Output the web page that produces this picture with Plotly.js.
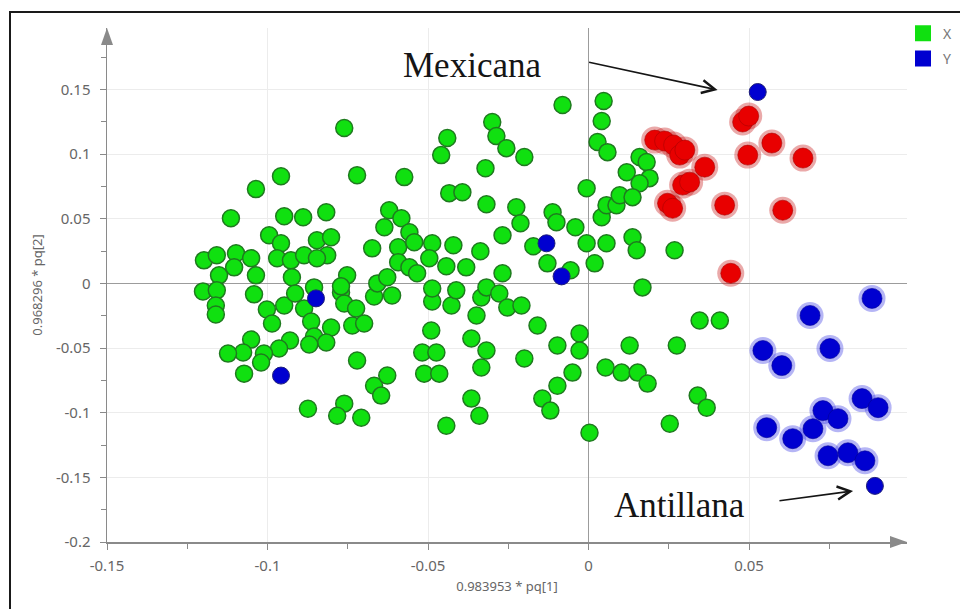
<!DOCTYPE html>
<html>
<head>
<meta charset="utf-8">
<script src="https://cdn.plot.ly/plotly-3.0.1.min.js"></script>
<style>
  html, body { margin: 0; padding: 0; background: #fff; }
  #wrap { position: relative; width: 960px; height: 609px; overflow: hidden; }
  #chart { position: absolute; left: 0; top: 0; width: 960px; height: 609px; }
  #frame { position: absolute; left: 9px; top: 11px; width: 970px; height: 620px;
           border-left: 2px solid #1a1a1a; border-top: 2px solid #1a1a1a; pointer-events: none; }
</style>
</head>
<body>
<div id="wrap">
  <div id="chart"></div>
  <div id="frame"></div>
</div>
<script>
// ---- Data (score plot: 0.983953*pq[1] vs 0.968296*pq[2]) ----
const greenX = [
 -0.1036,-0.0958,-0.1114,-0.0948,-0.0889,-0.0817,-0.0995,-0.0958,-0.0970,-0.0927,
 -0.0886,-0.0846,-0.0802,-0.0814,-0.0846,-0.0924,-0.0855,-0.1198,-0.1158,-0.1098,
 -0.1051,-0.1104,-0.1151,-0.1036,-0.1201,-0.1158,-0.1161,-0.1161,-0.1042,-0.1002,
 -0.0986,-0.0948,-0.0914,-0.0886,-0.0864,-0.0802,-0.0855,-0.0817,-0.0870,-0.0930,
 -0.0964,-0.1011,-0.1051,-0.1076,-0.1123,-0.1020,-0.1073,-0.0874,-0.0771,-0.0761,
 -0.0724,-0.0736,-0.0699,-0.0668,-0.0612,-0.0721,-0.0668,-0.0627,-0.0646,-0.0761,
 -0.0783,-0.0708,-0.0518,-0.0512,-0.0761,-0.0721,-0.0574,-0.0621,-0.0583,-0.0636,
 -0.0558,-0.0674,-0.0593,-0.0543,-0.0593,-0.0558,-0.0534,-0.0658,-0.0627,-0.0752,
 -0.0771,-0.0440,-0.0459,-0.0300,-0.0287,-0.0256,-0.0200,-0.0321,-0.0081, 0.0047,
  0.0041, 0.0028, 0.0059,-0.0006,-0.0434,-0.0393,-0.0318,-0.0225,-0.0212,-0.0112,
 -0.0100,-0.0041,-0.0268,-0.0337,-0.0381,-0.0268,-0.0487,-0.0421,-0.0496,-0.0443,
 -0.0172,-0.0128,-0.0056,-0.0006, 0.0056, 0.0019, 0.0041, 0.0056, 0.0087, 0.0097,
  0.0119, 0.0159, 0.0181, 0.0190, 0.0159, 0.0137, 0.0137, 0.0150, 0.0268, 0.0168,
 -0.0487,-0.0427,-0.0412,-0.0334,-0.0318,-0.0278,-0.0253,-0.0209,-0.0349,-0.0490,
 -0.0474,-0.0465,-0.0365,-0.0318,-0.0334,-0.0365,-0.0340,-0.0443,-0.0159,-0.0028,
 -0.0028,-0.0097,-0.0200,-0.0050,-0.0097,-0.0144,-0.0119, 0.0003, 0.0053, 0.0103,
  0.0153, 0.0184, 0.0128, 0.0275, 0.0346, 0.0409, 0.0340, 0.0368, 0.0253,-0.0487
];
const greenY = [
  0.0729, 0.0829, 0.0504, 0.0519, 0.0512, 0.0550, 0.0372, 0.0310, 0.0194, 0.0178,
  0.0217, 0.0333, 0.0357, 0.0217, 0.0194, 0.0047,-0.0031, 0.0178, 0.0217, 0.0233,
  0.0194, 0.0124, 0.0062, 0.0062,-0.0062,-0.0054,-0.0171,-0.0240,-0.0085,-0.0202,
 -0.0310,-0.0171,-0.0078,-0.0194,-0.0295,-0.0341,-0.0411,-0.0457,-0.0473,-0.0442,
 -0.0504,-0.0543,-0.0434,-0.0535,-0.0543,-0.0612,-0.0698,-0.0969,-0.0070,-0.0155,
 -0.0194,-0.0326,-0.0310,-0.0101,-0.0093,-0.0597,-0.0791,-0.0713,-0.0868,-0.0930,
 -0.1023,-0.1039,-0.0535,-0.0698, 0.1201, 0.0837, 0.0822, 0.0566, 0.0504, 0.0434,
  0.0395, 0.0271, 0.0279, 0.0318, 0.0163, 0.0124, 0.0078, 0.0000, 0.0047, 0.0062,
 -0.0023, 0.1124, 0.0992, 0.1248, 0.1139, 0.1046, 0.0977, 0.0891, 0.1380, 0.1411,
  0.1256, 0.1093, 0.1015, 0.0736, 0.0698, 0.0705, 0.0612, 0.0589, 0.0465, 0.0550,
  0.0473, 0.0434, 0.0372, 0.0248, 0.0124, 0.0078, 0.0310, 0.0295, 0.0194, 0.0132,
  0.0287, 0.0155, 0.0101, 0.0310, 0.0310, 0.0155, 0.0512, 0.0605, 0.0605, 0.0682,
  0.0860, 0.0977, 0.0938, 0.0814, 0.0775, 0.0667, 0.0357, 0.0256, 0.0256,-0.0031,
 -0.0140,-0.0171,-0.0054,-0.0109,-0.0031,-0.0078,-0.0186,-0.0171,-0.0248,-0.0364,
 -0.0535,-0.0698,-0.0426,-0.0519,-0.0651,-0.0891,-0.1023,-0.1101,-0.0326,-0.0388,
 -0.0519,-0.0481,-0.0581,-0.0690,-0.0791,-0.0891,-0.0984,-0.1155,-0.0651,-0.0690,
 -0.0690,-0.0775,-0.0481,-0.0481,-0.0287,-0.0287,-0.0868,-0.0961,-0.1085,-0.0039
];
// "Mexicana" group (red, highlighted)
const redX = [0.0480,0.0499,0.0571,0.0496,0.0668,0.0206,0.0237,0.0265,0.0284,0.0300,
              0.0362,0.0293,0.0315,0.0246,0.0262,0.0424,0.0605,0.0443];
const redY = [0.1248,0.1294,0.1085,0.0992,0.0969,0.1108,0.1101,0.1070,0.0992,0.1031,
              0.0899,0.0760,0.0783,0.0620,0.0581,0.0605,0.0566,0.0078];
// "Antillana" group (blue, highlighted)
const blueHiX = [0.0883,0.0690,0.0543,0.0602,0.0752,0.0852,0.0902,0.0555,0.0636,0.0699,
                 0.0730,0.0777,0.0746,0.0808,0.0861];
const blueHiY = [-0.0116,-0.0248,-0.0519,-0.0636,-0.0504,-0.0891,-0.0961,-0.1116,-0.1201,-0.1124,
                 -0.0984,-0.1046,-0.1333,-0.1310,-0.1372];
// remaining Y-class observations (blue, plain)
const blueX = [0.0527,-0.0131,-0.0084,-0.0849,-0.0958,0.0892];
const blueY = [0.1480, 0.0310, 0.0054,-0.0116,-0.0713,-0.1566];

const legendNames = ['X', 'Y'];
const xTickVals = [-0.15, -0.1, -0.05, 0, 0.05];
const xTickText = ['-0.15', '-0.1', '-0.05', '0', '0.05'];
const yTickVals = [-0.2, -0.15, -0.1, -0.05, 0, 0.05, 0.1, 0.15];
const yTickText = ['-0.2', '-0.15', '-0.1', '-0.05', '0', '0.05', '0.1', '0.15'];
const xTitle = '0.983953 * pq[1]';
const yTitle = '0.968296 * pq[2]';
const labelMex = 'Mexicana';
const labelAnt = 'Antillana';

// ---- Styles ----
const GREEN = '#10e010', GREEN_EDGE = '#1f7a1f';
const RED = '#e80000', BLUE = '#0000d0';

const traces = [
  { x: greenX, y: greenY, mode: 'markers', type: 'scatter', showlegend: false,
    marker: { size: 17, color: GREEN, line: { color: GREEN_EDGE, width: 1.5 } } },
  { x: blueX, y: blueY, mode: 'markers', type: 'scatter', showlegend: false,
    marker: { size: 17, color: BLUE, line: { color: '#20207a', width: 1 } } },
  // halos
  { x: redX, y: redY, mode: 'markers', type: 'scatter', showlegend: false,
    marker: { size: 27, color: 'rgba(200,30,30,0.38)', line: { width: 0 } } },
  { x: redX, y: redY, mode: 'markers', type: 'scatter', showlegend: false,
    marker: { size: 20, color: RED, line: { color: 'rgba(170,0,0,0.6)', width: 1 } } },
  { x: blueHiX, y: blueHiY, mode: 'markers', type: 'scatter', showlegend: false,
    marker: { size: 27, color: 'rgba(60,60,230,0.38)', line: { width: 0 } } },
  { x: blueHiX, y: blueHiY, mode: 'markers', type: 'scatter', showlegend: false,
    marker: { size: 20, color: BLUE, line: { color: 'rgba(0,0,150,0.6)', width: 1 } } },
  // legend entries
  { x: [null], y: [null], mode: 'markers', type: 'scatter', name: legendNames[0], legendgroup: 'gx',
    marker: { symbol: 'square', size: 20, color: GREEN } },
  { x: [null], y: [null], mode: 'markers', type: 'scatter', name: legendNames[1], legendgroup: 'gy',
    marker: { symbol: 'square', size: 20, color: BLUE } }
];

const tickFont = { family: 'Noto Sans, DejaVu Sans, sans-serif', size: 15, color: '#666' };
const axisCommon = {
  showline: true, linecolor: '#8a8a8a', linewidth: 1.5,
  ticks: 'outside', ticklen: 6, tickcolor: '#8a8a8a', tickwidth: 1,
  showgrid: true, gridcolor: '#ececec', gridwidth: 1,
  zeroline: true, zerolinecolor: '#9c9c9c', zerolinewidth: 1.5,
  tickfont: tickFont, tickmode: 'array', fixedrange: true,
  minor: { tickmode: 'linear', tick0: 0, dtick: 0.025, ticks: 'outside', ticklen: 5,
           tickcolor: '#8a8a8a', showgrid: false }
};

const layout = {
  width: 960, height: 609,
  margin: { l: 107, r: 53, t: 28, b: 67, autoexpand: false },
  paper_bgcolor: 'rgba(0,0,0,0)', plot_bgcolor: '#fff',
  showlegend: true,
  legend: { x: 0.995, xanchor: 'left', y: 1.02, yanchor: 'top', itemsizing: 'trace',
            font: { family: 'Noto Sans, sans-serif', size: 14, color: '#777' },
            bgcolor: 'rgba(0,0,0,0)', itemwidth: 30, tracegroupgap: 4 },
  xaxis: Object.assign({}, axisCommon, {
    range: [-0.15, 0.0992], tickvals: xTickVals, ticktext: xTickText,
    ticklabelstandoff: 3,
    title: { text: xTitle, font: { family: 'Noto Sans, sans-serif', size: 13, color: '#666' }, standoff: 8 }
  }),
  yaxis: Object.assign({}, axisCommon, {
    range: [-0.2, 0.1975], tickvals: yTickVals, ticktext: yTickText,
    ticklabelstandoff: 6,
    title: { text: yTitle, font: { family: 'Noto Sans, sans-serif', size: 13, color: '#666' }, standoff: 10 }
  }),
  shapes: [
    // arrowheads at ends of axes
    { type: 'path', xref: 'paper', yref: 'paper', path: 'M -0.0075 0.9669 L 0 1 L 0.0075 0.9669 Z',
      fillcolor: '#8a8a8a', line: { width: 0 } },
    { type: 'path', xref: 'paper', yref: 'paper', path: 'M 0.97875 -0.0117 L 1 0 L 0.97875 0.0117 Z',
      fillcolor: '#8a8a8a', line: { width: 0 } }
  ],
  annotations: [
    { x: -0.0362, y: 0.1685, xref: 'x', yref: 'y', text: labelMex, showarrow: false,
      font: { family: 'Liberation Serif, Times New Roman, serif', size: 35, color: '#151515' } },
    { x: 0.0284, y: -0.1720, xref: 'x', yref: 'y', text: labelAnt, showarrow: false,
      font: { family: 'Liberation Serif, Times New Roman, serif', size: 35, color: '#151515' } },
    { x: 0.0402, y: 0.1496, ax: -0.0003, ay: 0.1713, xref: 'x', yref: 'y', axref: 'x', ayref: 'y',
      text: '', showarrow: true, arrowhead: 5, arrowsize: 1.6, arrowwidth: 1.6, arrowcolor: '#151515', standoff: 0 },
    { x: 0.0824, y: -0.1605, ax: 0.0590, ay: -0.1682, xref: 'x', yref: 'y', axref: 'x', ayref: 'y',
      text: '', showarrow: true, arrowhead: 5, arrowsize: 1.6, arrowwidth: 1.6, arrowcolor: '#151515', standoff: 0 }
  ]
};

Plotly.newPlot('chart', traces, layout, { staticPlot: true, displayModeBar: false });
</script>
</body>
</html>
